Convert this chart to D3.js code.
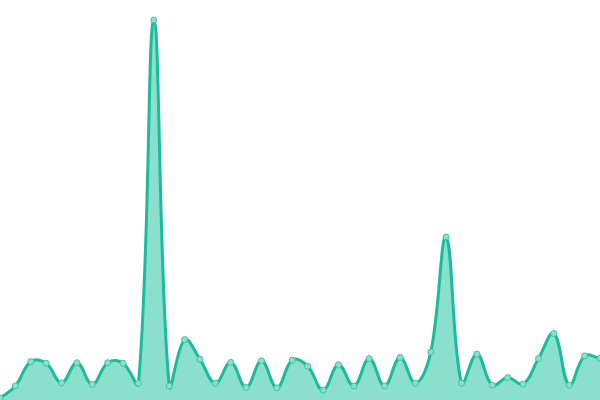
<!DOCTYPE html>
<html>
<head>
<meta charset="utf-8">
<script src="https://cdn.jsdelivr.net/npm/d3@7"></script>
<style>
  body { margin: 0; background: #fff; }
  svg { display: block; }
</style>
</head>
<body>
<div class="chart"></div>
<script>
var svgWidth = 600;
var svgHeight = 400;

// one value per point (0-100 scale)
var indexes = d3.range(40);
var values = [0.5, 3.7, 10.1, 9.7, 4.5, 9.8, 4.1, 9.8, 9.7, 4.4,
  100, 3.7, 15.9, 10.7, 4.4, 9.9, 3.3, 10.3, 3.2, 10.5,
  8.9, 2.6, 9.3, 3.7, 10.9, 3.7, 11.2, 4.4, 12.6, 42.9,
  4.4, 12.1, 3.9, 5.9, 4.2, 10.9, 17.5, 3.9, 11.6, 11.0];

var tension = 0.4;

// spline curve: control points weighted by distance to neighbours,
// kept inside the drawing area
function SplineCurve(context) {
  this._context = context;
}
SplineCurve.prototype = {
  areaStart: function() { this._line = 0; },
  areaEnd: function() { this._line = NaN; },
  lineStart: function() { this._pts = []; },
  point: function(x, y) { this._pts.push([+x, +y]); },
  lineEnd: function() {
    var p = this._pts, n = p.length, ctx = this._context;
    if (n) {
      if (this._line) ctx.lineTo(p[0][0], p[0][1]);
      else ctx.moveTo(p[0][0], p[0][1]);
    }
    var cps = p.map(function(cur, i) {
      var prev = p[i - 1] || cur, next = p[i + 1] || cur;
      var d01 = Math.hypot(cur[0] - prev[0], cur[1] - prev[1]);
      var d12 = Math.hypot(next[0] - cur[0], next[1] - cur[1]);
      var s01 = d01 / (d01 + d12) || 0, s12 = d12 / (d01 + d12) || 0;
      var fa = tension * s01, fb = tension * s12;
      var cap = function(q) {
        return [Math.max(0, Math.min(svgWidth, q[0])), Math.max(0, Math.min(svgHeight, q[1]))];
      };
      return {
        before: cap([cur[0] - fa * (next[0] - prev[0]), cur[1] - fa * (next[1] - prev[1])]),
        after: cap([cur[0] + fb * (next[0] - prev[0]), cur[1] + fb * (next[1] - prev[1])])
      };
    });
    for (var i = 1; i < n; i++) {
      ctx.bezierCurveTo(cps[i - 1].after[0], cps[i - 1].after[1],
        cps[i].before[0], cps[i].before[1], p[i][0], p[i][1]);
    }
    if (this._line || (this._line !== 0 && n === 1)) ctx.closePath();
    this._line = 1 - this._line;
  }
};
function curveSpline(context) { return new SplineCurve(context); }

var svg = d3.select(".chart")
  .append("svg")
  .attr("width", svgWidth)
  .attr("height", svgHeight);

var xScale = d3.scaleLinear()
  .domain([0, indexes.length - 1])
  .range([0, svgWidth]);

var yScale = d3.scaleLinear()
  .domain([0, 100])
  .range([svgHeight, 20]);

var area = d3.area()
  .x(d => xScale(d))
  .y0(svgHeight)
  .y1(d => yScale(values[d]))
  .curve(curveSpline);

var line = d3.line()
  .x(d => xScale(d))
  .y(d => yScale(values[d]))
  .curve(curveSpline);

svg.append("path")
  .datum(indexes)
  .attr("d", area)
  .attr("fill", "#8ae0cc");

svg.append("path")
  .datum(indexes)
  .attr("d", line)
  .attr("fill", "none")
  .attr("stroke", "#1abc9c")
  .attr("stroke-width", 3);

svg.selectAll("circle")
  .data(indexes)
  .enter()
  .append("circle")
  .attr("cx", d => xScale(d))
  .attr("cy", d => yScale(values[d]))
  .attr("r", 3)
  .attr("fill", "#8ae0cc")
  .attr("stroke", "#3cc8a6")
  .attr("stroke-width", 1);
</script>
</body>
</html>
